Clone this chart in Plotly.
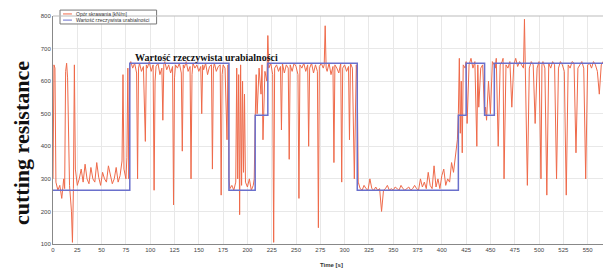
import plotly.graph_objects as go

# ---- data ----
x_ticks = [0, 25, 50, 75, 100, 125, 150, 175, 200, 225, 250, 275, 300, 325, 350,
           375, 400, 425, 450, 475, 500, 525, 550]
y_ticks = [100, 200, 300, 400, 500, 600, 700, 800]

series_names = ["Opór skrawania [kN/m]", "Wartość rzeczywista urabialności"]

# step line: real workability value
step_time = [0, 79, 79, 181, 181, 208, 208, 221, 221, 313, 313, 417, 417, 425, 425, 444, 444, 454, 454, 573]
step_value = [265, 265, 655, 655, 265, 265, 495, 495, 655, 655, 265, 265, 495, 495, 655, 655, 495, 495, 655, 655]

# measured cutting resistance (noisy series)
time_a = [0, 1, 2, 3, 5, 7, 9, 11, 12, 13, 14, 15, 17, 19, 20, 21, 22, 23, 25, 27, 29, 31, 33, 35, 37, 39,
          41, 43, 45, 47, 49, 51, 53, 55, 57, 59, 61, 63, 65, 67, 69, 71, 72, 73, 75, 76, 77, 78]
res_a = [300, 650, 640, 290, 265, 280, 240, 300, 270, 630, 655, 610, 280, 200, 105, 270, 650, 330, 280, 300,
         330, 290, 345, 300, 285, 335, 300, 290, 350, 305, 280, 320, 300, 290, 340, 315, 285, 300, 335, 290,
         310, 355, 620, 330, 300, 365, 640, 300]

time_b = [79, 80, 82, 84, 86, 87, 88, 89, 91, 93, 95, 96, 97, 99, 101, 103, 104, 105, 106, 108, 110, 112, 113,
          114, 115, 117, 119, 121, 123, 124, 125, 126, 128, 130, 132, 133, 134, 135, 137, 139, 141, 142, 143,
          144, 146, 148, 150, 152, 153, 154, 155, 157, 159, 161, 163, 164, 165, 166, 168, 170, 172, 173, 174,
          175, 177, 179, 180]
res_b = [650, 660, 640, 655, 625, 300, 640, 655, 630, 645, 415, 650, 640, 660, 630, 650, 265, 600, 645, 655,
         620, 640, 480, 650, 660, 635, 650, 625, 645, 220, 610, 650, 640, 655, 625, 385, 650, 640, 660, 630,
         645, 300, 620, 655, 640, 650, 630, 645, 500, 650, 635, 655, 620, 645, 650, 330, 640, 655, 630, 645,
         650, 250, 620, 650, 640, 420, 650]

time_c = [181, 182, 184, 186, 188, 189, 190, 191, 192, 193, 194, 195, 196, 197, 198, 200, 202, 204, 206, 207,
          208, 209, 210, 212, 214, 215, 216, 218, 220]
res_c = [300, 270, 280, 265, 290, 640, 300, 620, 190, 650, 280, 600, 320, 560, 290, 275, 300, 265, 280, 300,
         480, 620, 500, 640, 560, 650, 420, 630, 600]

time_d = [221, 222, 224, 226, 227, 228, 230, 232, 234, 235, 236, 238, 240, 242, 243, 244, 246, 248, 250, 252,
          253, 254, 256, 258, 260, 262, 263, 264, 266, 268, 270, 272, 273, 274, 276, 278, 279, 280, 281, 282,
          284, 286, 288, 289, 290, 292, 294, 296, 297, 298, 300, 302, 304, 305, 306, 308, 310, 312]
res_d = [740, 640, 655, 620, 105, 640, 650, 630, 645, 450, 655, 625, 650, 640, 360, 650, 630, 655, 645, 620,
         240, 650, 640, 655, 630, 650, 400, 640, 655, 625, 650, 630, 150, 645, 655, 640, 650, 770, 640, 630,
         655, 620, 645, 350, 650, 640, 625, 655, 290, 640, 650, 630, 645, 420, 655, 640, 300, 650]

time_e = [313, 314, 316, 318, 320, 322, 324, 326, 328, 330, 332, 334, 336, 338, 340, 342, 344, 346, 348, 350,
          352, 354, 356, 358, 360, 362, 364, 366, 368, 370, 372, 374, 376, 378, 380, 382, 384, 386, 388, 390,
          392, 394, 396, 398, 400, 402, 404, 406, 408, 410, 412, 414, 416]
res_e = [600, 290, 270, 265, 280, 270, 265, 300, 270, 265, 275, 265, 270, 200, 265, 270, 280, 265, 270, 265,
         275, 270, 265, 280, 270, 265, 270, 275, 265, 270, 280, 270, 265, 300, 275, 290, 270, 320, 280, 270,
         340, 275, 300, 270, 310, 330, 280, 300, 290, 350, 320, 370, 420]

time_f = [417, 418, 419, 420, 421, 422, 424, 425, 426, 428, 430, 432, 434, 436, 437, 438, 440, 442, 444, 445,
          446, 448, 450, 452, 454, 455, 456, 458, 460, 462, 463, 464, 466, 468, 470, 472, 474, 476, 478, 480,
          482, 484, 485, 486, 488, 490, 492, 494, 496, 498, 500, 502, 503, 504, 506, 508, 510, 512, 514, 516,
          518, 520, 522, 524, 526, 528, 530, 532, 534, 536, 538, 540, 542, 544, 546, 548, 550, 552, 554, 556,
          558, 560, 562, 564, 566, 568, 570, 572]
res_f = [500, 670, 440, 600, 380, 650, 640, 660, 470, 650, 670, 640, 660, 400, 650, 520, 640, 650, 495, 520,
         480, 600, 500, 660, 650, 640, 670, 400, 650, 660, 670, 300, 650, 640, 660, 520, 650, 670, 645, 660,
         650, 640, 790, 650, 280, 640, 660, 650, 470, 640, 660, 300, 650, 660, 640, 250, 655, 640, 660, 650,
         300, 640, 660, 650, 630, 250, 650, 640, 660, 655, 380, 640, 650, 660, 640, 300, 650, 655, 640, 660,
         650, 630, 560, 650, 660, 640, 650, 660]

time_all = time_a + time_b + time_c + time_d + time_e + time_f
res_all = res_a + res_b + res_c + res_d + res_e + res_f

RED = "#ef6a4a"
BLUE = "#6a70cc"

fig = go.Figure()
fig.add_trace(go.Scatter(x=time_all, y=res_all, mode="lines", name=series_names[0],
                         line=dict(color=RED, width=1), showlegend=False))
fig.add_trace(go.Scatter(x=step_time, y=step_value, mode="lines", name=series_names[1],
                         line=dict(color=BLUE, width=1.5), showlegend=False))

fig.add_annotation(x=82, y=655, xref="x", yref="y", text="<b>Wartość rzeczywista urabialności</b>",
                   showarrow=False, xanchor="left", yanchor="bottom", yshift=-2,
                   font=dict(family="Liberation Serif, DejaVu Serif, serif", size=10, color="#111"))
fig.add_annotation(x=-0.0557, y=0.443, xref="paper", yref="paper", text="<b>cutting resistance</b>",
                   showarrow=False, textangle=-90, xanchor="center", yanchor="middle",
                   font=dict(family="Liberation Serif, DejaVu Serif, serif", size=22, color="#111"))
fig.add_annotation(x=0.5, y=-0.09, xref="paper", yref="paper", text="<b>Time [s]</b>",
                   showarrow=False, xanchor="center", yanchor="middle",
                   font=dict(family="Liberation Sans, Arial, sans-serif", size=6, color="#333"))

# manual compact legend (paper coordinates)
fig.add_shape(type="rect", xref="paper", yref="paper", x0=0.0126, x1=0.186, y0=0.965, y1=1.026,
              line=dict(color="#777", width=1), fillcolor="white", layer="above")
for i, (nm, col) in enumerate(zip(series_names, [RED, BLUE])):
    yy = 1.009 - i * 0.027
    fig.add_shape(type="line", xref="paper", yref="paper", x0=0.018, x1=0.034, y0=yy, y1=yy,
                  line=dict(color=col, width=1), layer="above")
    fig.add_annotation(x=0.038, y=yy, xref="paper", yref="paper", text=nm, showarrow=False,
                       xanchor="left", yanchor="middle",
                       font=dict(family="Liberation Sans, Arial, sans-serif", size=5, color="#333"))

# the page places the figure 8px from the top-left corner, so size the figure to fit the window
fig.update_layout(
    width=603, height=261,
    margin=dict(l=45, r=1, t=8, b=25, autoexpand=False),
    paper_bgcolor="white", plot_bgcolor="white",
    showlegend=False,
)
fig.update_xaxes(range=[0, 573], tickvals=x_ticks, ticktext=[str(v) for v in x_ticks],
                 showgrid=True, gridcolor="#e8e8e8", gridwidth=1, automargin=False,
                 showline=True, linecolor="#888", linewidth=1, mirror=False,
                 ticks="", tickfont=dict(family="Liberation Sans, Arial, sans-serif", size=6, color="#444"),
                 zeroline=False)
fig.update_yaxes(range=[100, 800], tickvals=y_ticks, ticktext=[str(v) for v in y_ticks],
                 showgrid=True, gridcolor="#e8e8e8", gridwidth=1, automargin=False,
                 showline=True, linecolor="#888", linewidth=1,
                 ticks="", tickfont=dict(family="Liberation Sans, Arial, sans-serif", size=6, color="#444"),
                 zeroline=False)
fig.add_shape(type="line", xref="paper", yref="paper", x0=0, x1=1, y0=1, y1=1,
              line=dict(color="#bbb", width=1))

fig.write_html("out.html")
